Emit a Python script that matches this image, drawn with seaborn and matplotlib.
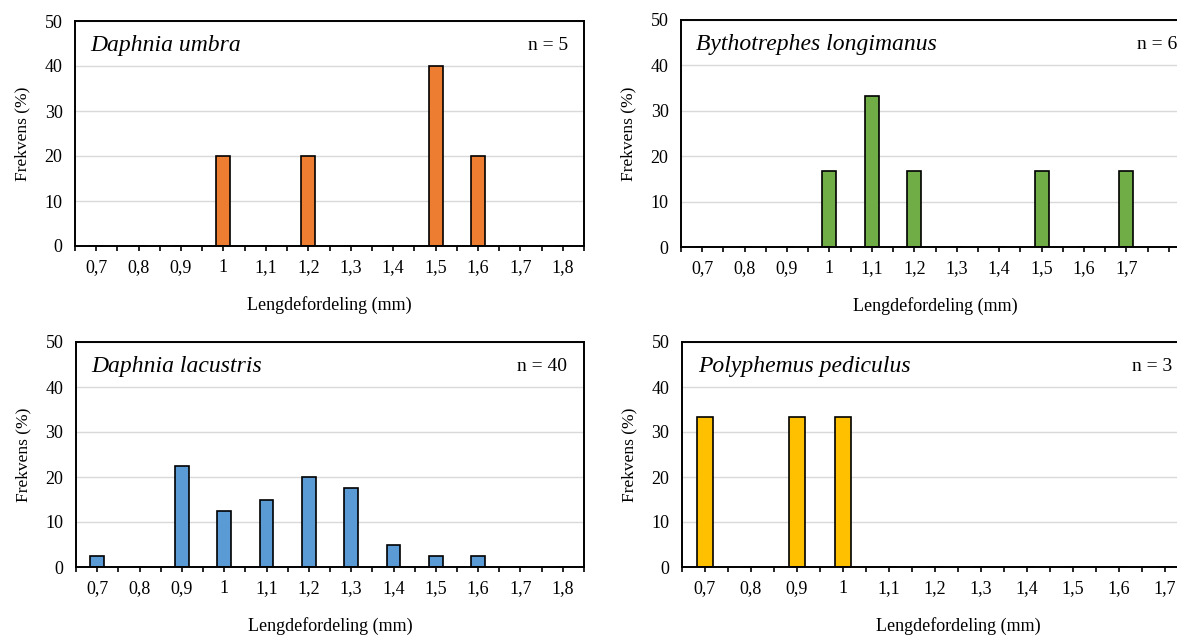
import matplotlib
matplotlib.use("Agg")
import matplotlib.pyplot as plt
import numpy as np
import seaborn as sns

# Lengdefordeling (mm) - kategorier
lengths = ["0,7", "0,8", "0,9", "1", "1,1", "1,2", "1,3", "1,4", "1,5", "1,6", "1,7", "1,8"]
lengths_short = lengths[:11]  # Bythotrephes-panelet har ingen 1,8

umbra_pct = [0, 0, 0, 20, 0, 20, 0, 0, 40, 20, 0, 0]
bytho_pct = [0, 0, 0, 16.67, 33.33, 16.67, 0, 0, 16.67, 0, 16.67]
lacustris_pct = [2.5, 0, 22.5, 12.5, 15, 20, 17.5, 5, 2.5, 2.5, 0, 0]
polyph_pct = [33.33, 0, 33.33, 33.33, 0, 0, 0, 0, 0, 0, 0, 0]

species = ["Daphnia umbra", "Bythotrephes longimanus", "Daphnia lacustris", "Polyphemus pediculus"]
n_counts = [5, 6, 40, 3]
colors = ["#ED7D31", "#70AD47", "#5B9BD5", "#FFC000"]

sns.set_style("white")
plt.rcParams["font.family"] = ["Liberation Serif", "DejaVu Serif"]
plt.rcParams["text.color"] = "black"
plt.rcParams["axes.labelcolor"] = "black"
plt.rcParams["xtick.color"] = "black"
plt.rcParams["ytick.color"] = "black"

W, H = 1177, 637
fig = plt.figure(figsize=(W / 100, H / 100), dpi=100)


def px_axes(left, top, width, height):
    # plassering i piksler -> figurbrøk
    return fig.add_axes([left / W, (H - top - height) / H, width / W, height / H])


panels = [
    # (left, top, width, height), kategorier, verdier, n-tekst x
    ((75, 21, 509, 225), lengths, umbra_pct, 0.969),
    ((681, 20, 509, 227), lengths_short, bytho_pct, 0.974),
    ((76, 342, 508, 225), lengths, lacustris_pct, 0.967),
    ((682, 342, 552, 225), lengths, polyph_pct, 0.889),
]

for i, ((l, t, w, h), cats, vals, nx) in enumerate(panels):
    ax = px_axes(l, t, w, h)
    sns.barplot(x=cats, y=vals, order=cats, color=colors[i], saturation=1,
                edgecolor="black", linewidth=1.2, width=0.33, errorbar=None, ax=ax)

    ax.set_xlim(-0.5, 11.5)
    ax.set_ylim(0, 50)
    ax.set_yticks(np.arange(0, 51, 10))
    ax.yaxis.grid(True, color="#D9D9D9", linewidth=1)
    ax.set_axisbelow(True)

    labels = list(cats) + [""] * (12 - len(cats))
    ax.set_xticks(range(12))
    ax.set_xticklabels(labels)
    ax.set_xticks(np.arange(-0.5, 12, 1), minor=True)
    ax.tick_params(axis="x", which="both", direction="out", length=3.5, width=1.2,
                   color="black", bottom=True, labelsize=13, pad=6)
    ax.tick_params(axis="y", length=0, labelsize=13, pad=9)

    for sp in ax.spines.values():
        sp.set_visible(True)
        sp.set_color("black")
        sp.set_linewidth(1.4)

    ax.set_xlabel("Lengdefordeling (mm)", fontsize=13, labelpad=14)
    ax.set_ylabel("Frekvens (%)", fontsize=12.5, labelpad=10)

    ax.text(0.03, 0.89, species[i], transform=ax.transAxes, fontsize=17,
            fontstyle="italic", ha="left", va="center")
    ax.text(nx, 0.89, f"n = {n_counts[i]}", transform=ax.transAxes, fontsize=14,
            ha="right", va="center")

fig.savefig("out.png", dpi=100)
